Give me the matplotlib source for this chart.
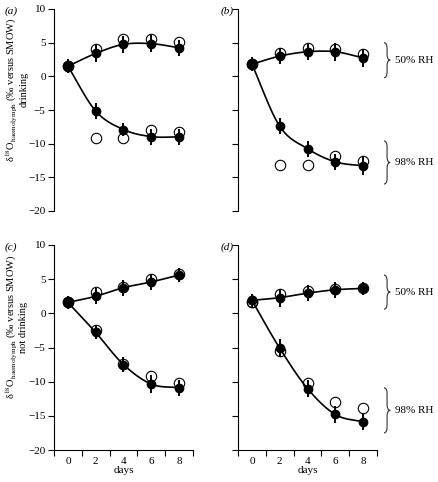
import numpy as np
import matplotlib
matplotlib.use('Agg')
import matplotlib.pyplot as plt
from matplotlib.path import Path
from matplotlib.patches import PathPatch

plt.rcParams['font.family'] = ['Liberation Serif', 'DejaVu Serif']
plt.rcParams['mathtext.fontset'] = 'stix'

days = [0, 2, 4, 6, 8]

# panel (a) drinking, top row
a_mean_50 = [1.5, 3.4, 4.75, 4.85, 4.25]
a_open_50 = [1.6, 4.1, 5.5, 5.6, 5.15]
a_mean_98 = [1.5, -5.15, -7.9, -8.95, -9.0]
a_open_98 = [1.6, -9.2, -9.1, -8.0, -8.3]
a_err_50 = [1.0, 1.2, 1.3, 1.3, 1.2]
a_err_98 = [1.0, 1.2, 1.0, 1.2, 1.2]

# panel (b)
b_mean_50 = [1.8, 3.0, 3.65, 3.65, 2.75]
b_open_50 = [1.8, 3.5, 4.25, 4.1, 3.25]
b_mean_98 = [1.8, -7.4, -10.75, -12.7, -13.3]
b_open_98 = [1.8, -13.2, -13.2, -11.9, -12.5]
b_err_50 = [1.0, 1.2, 1.2, 1.3, 1.3]
b_err_98 = [1.0, 1.2, 1.2, 1.2, 1.3]

# panel (c) not drinking
c_mean_50 = [1.6, 2.5, 3.75, 4.6, 5.6]
c_open_50 = [1.7, 3.1, 3.85, 5.05, 5.7]
c_mean_98 = [1.6, -2.8, -7.5, -10.35, -10.9]
c_open_98 = [1.7, -2.4, -7.45, -9.2, -10.2]
c_err_50 = [1.0, 1.2, 1.2, 1.2, 1.0]
c_err_98 = [1.0, 1.0, 1.1, 1.3, 1.2]

# panel (d)
d_mean_50 = [1.9, 2.3, 2.95, 3.45, 3.65]
d_open_50 = [1.6, 2.8, 3.2, 3.55, 3.7]
d_mean_98 = [1.9, -5.1, -11.0, -14.8, -15.9]
d_open_98 = [1.6, -5.5, -10.15, -13.0, -13.9]
d_err_50 = [1.0, 1.3, 1.2, 1.2, 0.9]
d_err_98 = [1.0, 1.3, 1.2, 1.3, 1.2]

panels = {
    'a': (a_mean_50, a_open_50, a_err_50, a_mean_98, a_open_98, a_err_98),
    'b': (b_mean_50, b_open_50, b_err_50, b_mean_98, b_open_98, b_err_98),
    'c': (c_mean_50, c_open_50, c_err_50, c_mean_98, c_open_98, c_err_98),
    'd': (d_mean_50, d_open_50, d_err_50, d_mean_98, d_open_98, d_err_98),
}


def smooth(x, y, n=20):
    # catmull-rom through the points, only for drawing the curve
    x = np.asarray(x, float)
    y = np.asarray(y, float)
    px = np.concatenate([[2 * x[0] - x[1]], x, [2 * x[-1] - x[-2]]])
    py = np.concatenate([[2 * y[0] - y[1]], y, [2 * y[-1] - y[-2]]])
    xs, ys = [], []
    t = np.linspace(0, 1, n)
    for i in range(1, len(px) - 2):
        for p, out in ((px, xs), (py, ys)):
            p0, p1, p2, p3 = p[i - 1], p[i], p[i + 1], p[i + 2]
            out.extend(0.5 * (2 * p1 + (-p0 + p2) * t
                              + (2 * p0 - 5 * p1 + 4 * p2 - p3) * t ** 2
                              + (-p0 + 3 * p1 - 3 * p2 + p3) * t ** 3))
    return xs, ys


def brace(ax, x0, top, bot, w=0.45, r=0.9):
    xm = x0 + w / 2
    mid = (top + bot) / 2
    verts = [(x0, top), (xm, top), (xm, top - r), (xm, mid + r),
             (xm, mid), (x0 + w, mid), (xm, mid), (xm, mid - r),
             (xm, bot + r), (xm, bot), (x0, bot)]
    codes = [Path.MOVETO, Path.CURVE3, Path.CURVE3, Path.LINETO,
             Path.CURVE3, Path.CURVE3, Path.CURVE3, Path.CURVE3,
             Path.LINETO, Path.CURVE3, Path.CURVE3]
    ax.add_patch(PathPatch(Path(verts, codes), fill=False, lw=0.8,
                           color='#333333', clip_on=False))


fig = plt.figure(figsize=(4.39, 4.82), dpi=100)
W, H = 439, 482
boxes = {
    'a': (54, 9, 139, 202),
    'b': (238, 9, 139, 202),
    'c': (54, 245, 139, 205),
    'd': (238, 245, 139, 205),
}
label_x = {'a': 5, 'b': 221, 'c': 5, 'd': 221}

for key, (l, t, w, h) in boxes.items():
    ax = fig.add_axes([l / W, 1 - (t + h) / H, w / W, h / H])
    m50, o50, e50, m98, o98, e98 = panels[key]

    for o in (o50, o98):
        ax.plot(days, o, 'o', ms=7.5, mfc='none', mec='black', mew=0.8, zorder=2)
    for m, e in ((m50, e50), (m98, e98)):
        xs, ys = smooth(days, m)
        ax.plot(xs, ys, color='black', lw=1.2, zorder=3)
        ax.errorbar(days, m, yerr=e, fmt='o', color='black', ms=6,
                    elinewidth=1.4, capsize=0, zorder=4)

    ax.set_xlim(-1, 9)
    ax.set_ylim(-20, 10)
    ax.spines['top'].set_visible(False)
    ax.spines['right'].set_visible(False)
    ax.set_yticks([10, 5, 0, -5, -10, -15, -20])
    ax.tick_params(axis='y', direction='out', length=4, width=0.8, labelsize=8, pad=2)

    if key in ('a', 'b'):
        ax.spines['bottom'].set_visible(False)
        ax.set_xticks([])
    else:
        ax.set_xticks([-1, 1, 3, 5, 7, 9])
        ax.set_xticklabels([])
        ax.set_xticks(days, minor=True)
        ax.set_xticklabels([str(d) for d in days], minor=True)
        ax.tick_params(axis='x', which='major', direction='out', length=4, width=0.8)
        ax.tick_params(axis='x', which='minor', length=0, labelsize=8, pad=5)
        ax.set_xlabel('days', fontsize=8, labelpad=0)

    if key in ('b', 'd'):
        ax.set_yticklabels([])
        top50, bot50, top98, bot98 = ((5.0, -0.2, -9.6, -16.0) if key == 'b'
                                      else (5.6, 0.6, -10.9, -17.5))
        for top, bot, lab in ((top50, bot50, '50% RH'), (top98, bot98, '98% RH')):
            brace(ax, 9.5, top, bot)
            ax.text(10.3, (top + bot) / 2, lab, fontsize=8, va='center',
                    ha='left', clip_on=False)
    else:
        second = 'drinking' if key == 'a' else 'not drinking'
        ax.set_ylabel('\u03b4$^{18}$O$_{\\mathrm{haemolymph}}$'
                      ' (\u2030 versus SMOW)\n' + second,
                      fontsize=7.5, linespacing=1.0)
        ax.yaxis.set_label_coords(-0.185, 0.6)

    for s in ('left', 'bottom'):
        ax.spines[s].set_linewidth(0.8)

    fig.text(label_x[key] / W, 1 - (t + 2) / H, '(%s)' % key, fontsize=8,
             style='italic', va='center', ha='left')

fig.savefig('out.png', dpi=100)
